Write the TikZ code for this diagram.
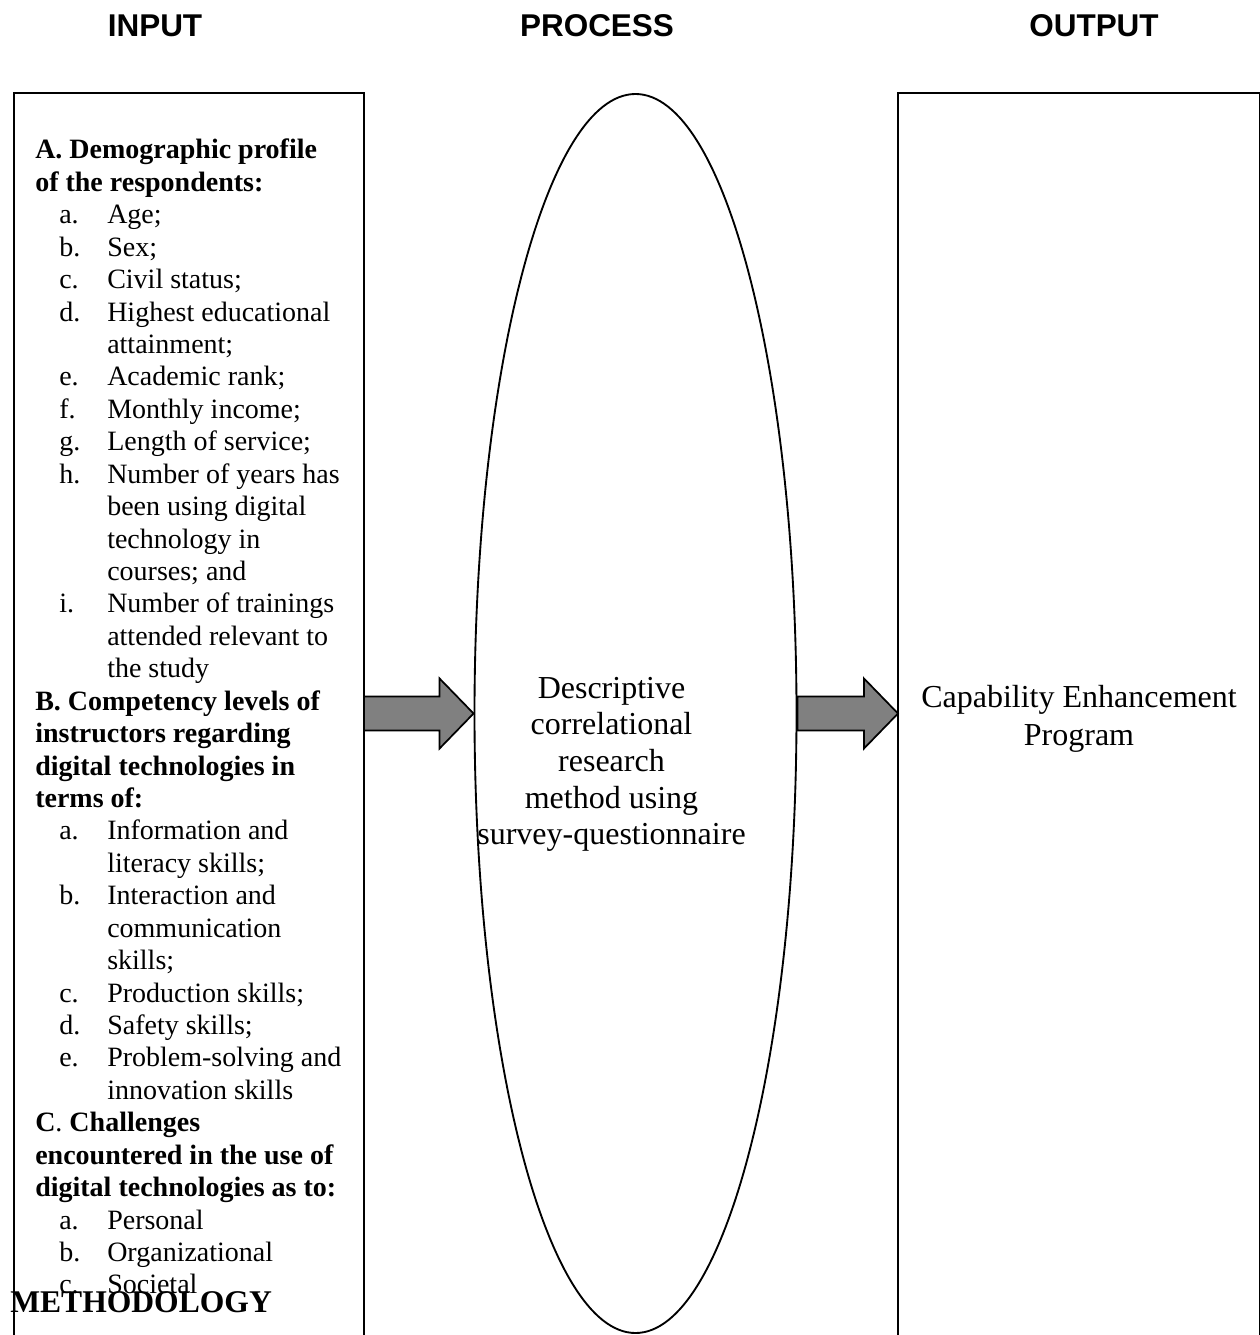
\documentclass[tikz,border=0pt]{standalone}
\usepackage{fontspec}
\setmainfont{Liberation Serif}
\setsansfont{Liberation Sans}
\usetikzlibrary{positioning, shapes.geometric, calc}
\definecolor{arrowgray}{RGB}{128, 128, 128}

% list entries of the input column
\newcommand{\itm}[2]{\hspace*{18pt}\makebox[36pt][l]{#1}#2}
\newcommand{\cnt}[1]{\hspace*{54pt}#1}
% block arrow from tail #1 to tip #2
\newcommand{\fatarrow}[2]{%
  \draw[bigarrow] ($(#2)+(-34,-17)$) -- ($(#2)+(-34,-35)$) -- (#2)
    -- ($(#2)+(-34,35)$) -- ($(#2)+(-34,17)$) -- ($(#1)+(0,17)$)
    -- ($(#1)+(0,-17)$) -- cycle;}

\begin{document}
\begin{tikzpicture}[x=0.75pt, y=-0.75pt,
    colhead/.style={font=\fontsize{23.6}{28}\selectfont\sffamily\bfseries, anchor=base},
    framebox/.style={draw, rectangle, line width=1.4pt, inner sep=0pt, outer sep=0pt, anchor=north west, minimum height=975pt},
    procoval/.style={draw, ellipse, line width=1.4pt, inner sep=0pt, minimum width=241.5pt, minimum height=929.25pt},
    bigarrow/.style={draw, fill=arrowgray, line width=1.3pt, line join=miter}
  ]
  \useasboundingbox (0,0) rectangle (1260,1335);

  \node (inhead) [colhead] at (155,36) {INPUT};
  \node (prochead) [colhead] at (597,36) {PROCESS};
  \node (outhead) [colhead] at (1094,36) {OUTPUT};

  \node (input) [framebox, minimum width=262.5pt] at (14,93) {};
  \node (proc) [procoval] at (635.5,713.5) {};
  \node (output) [framebox, minimum width=271.1pt] at (898,93) {};

  \node (inlist) [anchor=north west, align=left, inner sep=0pt, font=\fontsize{21}{24.32}\selectfont] at (35,139) {%
    {\bfseries A. Demographic profile}\\
    {\bfseries of the respondents:}\\
    \itm{a.}{Age;}\\
    \itm{b.}{Sex;}\\
    \itm{c.}{Civil status;}\\
    \itm{d.}{Highest educational}\\
    \cnt{attainment;}\\
    \itm{e.}{Academic rank;}\\
    \itm{f.}{Monthly income;}\\
    \itm{g.}{Length of service;}\\
    \itm{h.}{Number of years has}\\
    \cnt{been using digital}\\
    \cnt{technology in}\\
    \cnt{courses; and}\\
    \itm{i.}{Number of trainings}\\
    \cnt{attended relevant to}\\
    \cnt{the study}\\
    {\bfseries B. Competency levels of}\\
    {\bfseries instructors regarding}\\
    {\bfseries digital technologies in}\\
    {\bfseries terms of:}\\
    \itm{a.}{Information and}\\
    \cnt{literacy skills;}\\
    \itm{b.}{Interaction and}\\
    \cnt{communication}\\
    \cnt{skills;}\\
    \itm{c.}{Production skills;}\\
    \itm{d.}{Safety skills;}\\
    \itm{e.}{Problem-solving and}\\
    \cnt{innovation skills}\\
    \textbf{C}. \textbf{Challenges}\\
    {\bfseries encountered in the use of}\\
    {\bfseries digital technologies as to:}\\
    \itm{a.}{Personal}\\
    \itm{b.}{Organizational}\\
    \itm{c.}{Societal}};

  \node (proctext) [anchor=north, align=center, inner sep=0pt, font=\fontsize{24}{27.4}\selectfont] at (611.5,677) {Descriptive\\correlational\\research\\method using\\survey-questionnaire};
  \node (outtext) [anchor=north, align=center, inner sep=0pt, font=\fontsize{24}{28.7}\selectfont] at (1079,685) {Capability Enhancement\\Program};

  \node (method) [anchor=base west, inner sep=0pt, font=\fontsize{23.7}{28}\selectfont\bfseries] at (10,1312) {METHODOLOGY};

  \coordinate (intail) at (input.east |- proc.west);
  \coordinate (outtip) at (output.west |- proc.east);
  \fatarrow{intail}{proc.west}
  \fatarrow{proc.east}{outtip}
\end{tikzpicture}
\end{document}
